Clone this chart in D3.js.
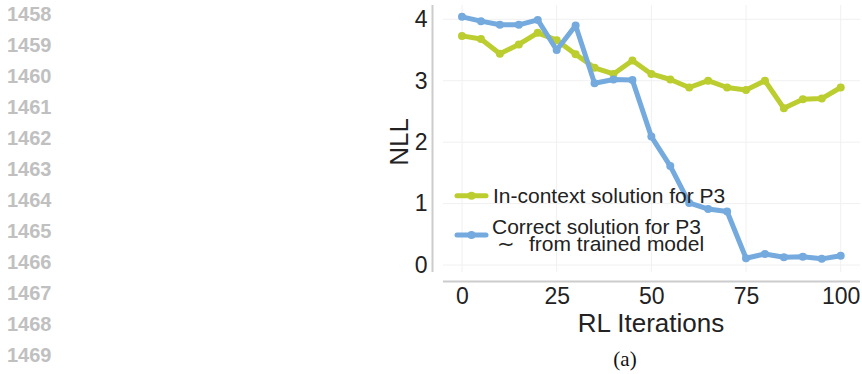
<!DOCTYPE html>
<html>
<head>
<meta charset="utf-8">
<script src="https://cdn.jsdelivr.net/npm/d3@7"></script>
<style>
  body { margin: 0; background: #fff; }
  svg { display: block; }
</style>
</head>
<body>
<svg id="chart" width="862" height="374"></svg>
<script>
// data
let iterations = [0, 5, 10, 15, 20, 25, 30, 35, 40, 45, 50, 55, 60, 65, 70, 75, 80, 85, 90, 95, 100];
let inContext = [3.73, 3.68, 3.44, 3.59, 3.78, 3.66, 3.43, 3.21, 3.11, 3.33, 3.11, 3.02, 2.89, 3.0, 2.89, 2.85, 3.0, 2.55, 2.7, 2.71, 2.89];
let correct = [4.04, 3.97, 3.91, 3.91, 3.99, 3.5, 3.9, 2.96, 3.02, 3.01, 2.09, 1.61, 1.01, 0.91, 0.87, 0.11, 0.18, 0.125, 0.135, 0.1, 0.15];
let xTicks = [0, 25, 50, 75, 100];
let yTicks = [0, 1, 2, 3, 4];
let legendLabels = ["In-context solution for P3", "Correct solution for P3", "from trained model"];
let lineNumbers = d3.range(1458, 1470);

let green = "#bccd2f";
let blue = "#74aade";
let axisGrey = "#cccccc";
let gridGrey = "#f0f0f0";
let font = "'Liberation Sans', Arial, Helvetica, sans-serif";

let svg = d3.select("#chart");

// line numbers down the margin
svg.append("g")
  .selectAll("text")
  .data(lineNumbers)
  .enter()
  .append("text")
  .attr("x", 7)
  .attr("y", (d, i) => 13.5 + i * 31.06)
  .attr("dy", "0.35em")
  .attr("fill", "#c0c0c0")
  .style("font-family", font)
  .style("font-weight", "bold")
  .style("font-size", "20px")
  .text((d) => d);

let x = d3.scaleLinear().domain([0, 100]).range([462, 840.7]);
let y = d3.scaleLinear().domain([0, 4]).range([265, 19.3]);

let plotLeft = 443, plotRight = 860, plotTop = 5, plotBottom = 272;

// grid
svg.append("g")
  .selectAll("line")
  .data(yTicks)
  .enter()
  .append("line")
  .attr("x1", plotLeft)
  .attr("x2", plotRight)
  .attr("y1", (d) => y(d))
  .attr("y2", (d) => y(d))
  .attr("stroke", gridGrey)
  .attr("stroke-width", 1);

svg.append("g")
  .selectAll("line")
  .data(xTicks)
  .enter()
  .append("line")
  .attr("x1", (d) => x(d))
  .attr("x2", (d) => x(d))
  .attr("y1", plotTop)
  .attr("y2", plotBottom)
  .attr("stroke", gridGrey)
  .attr("stroke-width", 1);

// axes, drawn with d3 axes then restyled
let yAxis = svg.append("g")
  .attr("transform", "translate(432.5,0)")
  .call(d3.axisLeft(y).tickValues(yTicks).tickSize(0).tickPadding(5).tickFormat(d3.format("d")));
yAxis.select(".domain").attr("d", "M0," + plotTop + "V" + plotBottom)
  .attr("stroke", axisGrey).attr("stroke-width", 2);

let xAxis = svg.append("g")
  .attr("transform", "translate(0,281.5)")
  .call(d3.axisBottom(x).tickValues(xTicks).tickSize(0).tickPadding(6).tickFormat(d3.format("d")));
xAxis.select(".domain").attr("d", "M" + plotLeft + ",0H" + plotRight)
  .attr("stroke", axisGrey).attr("stroke-width", 2);

svg.selectAll(".tick text")
  .attr("fill", "#222")
  .style("font-family", font)
  .style("font-size", "23px");

// axis titles
svg.append("text")
  .attr("transform", "translate(408,142) rotate(-90)")
  .attr("text-anchor", "middle")
  .attr("fill", "#222")
  .style("font-family", font)
  .style("font-size", "26px")
  .text("NLL");

svg.append("text")
  .attr("x", 651)
  .attr("y", 332)
  .attr("text-anchor", "middle")
  .attr("fill", "#222")
  .style("font-family", font)
  .style("font-size", "26px")
  .text("RL Iterations");

svg.append("text")
  .attr("x", 625)
  .attr("y", 366)
  .attr("text-anchor", "middle")
  .attr("fill", "#111")
  .style("font-family", "'Liberation Serif', 'Times New Roman', serif")
  .style("font-size", "21px")
  .text("(a)");

// series
let series = [
  { name: legendLabels[0], values: inContext, color: green },
  { name: legendLabels[1], values: correct, color: blue },
];

let line = d3.line()
  .x((d) => x(d.it))
  .y((d) => y(d.v));

series.forEach((s) => {
  let pts = iterations.map((it, i) => ({ it: it, v: s.values[i] }));
  svg.append("path")
    .datum(pts)
    .attr("d", line)
    .attr("fill", "none")
    .attr("stroke", s.color)
    .attr("stroke-width", 5)
    .attr("stroke-linejoin", "round");
  svg.append("g")
    .selectAll("circle")
    .data(pts)
    .enter()
    .append("circle")
    .attr("cx", (d) => x(d.it))
    .attr("cy", (d) => y(d.v))
    .attr("r", 4)
    .attr("fill", s.color);
});

// legend
let legend = svg.append("g");
let legendRows = [
  { color: green, y: 195.7 },
  { color: blue, y: 235 },
];
legendRows.forEach((r) => {
  legend.append("line")
    .attr("x1", 457).attr("x2", 486)
    .attr("y1", r.y).attr("y2", r.y)
    .attr("stroke", r.color)
    .attr("stroke-width", 5)
    .attr("stroke-linecap", "round");
  legend.append("circle")
    .attr("cx", 471.5).attr("cy", r.y).attr("r", 4)
    .attr("fill", r.color);
});

let legendText = legend.append("text")
  .attr("fill", "#222")
  .style("font-family", font)
  .style("font-size", "21px");
legendText.append("tspan").attr("x", 493).attr("y", 203).text(legendLabels[0]);
legendText.append("tspan").attr("x", 492).attr("y", 234).text(legendLabels[1]);
legendText.append("tspan").attr("x", 497).attr("y", 251).text("\u223C");
legendText.append("tspan").attr("x", 529).attr("y", 251).text(legendLabels[2]);
</script>
</body>
</html>
